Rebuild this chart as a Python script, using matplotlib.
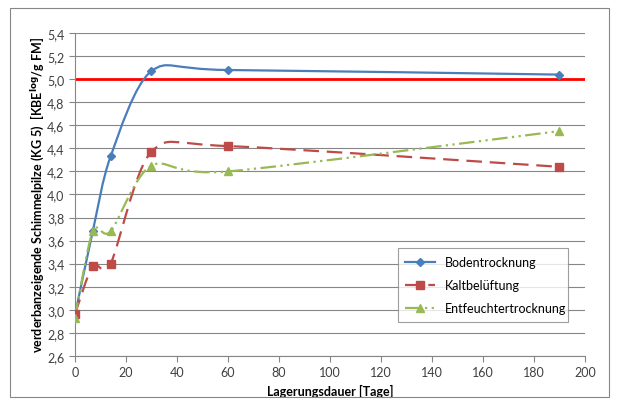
"""Schimmelpilze vs. Lagerungsdauer, recreated from an Excel chart."""

import matplotlib

matplotlib.use("Agg")
import matplotlib.pyplot as plt
from matplotlib.lines import Line2D
from matplotlib.patches import PathPatch, Rectangle
from matplotlib.path import Path

days = [0, 7, 14, 30, 60, 190]
boden = [2.95, 3.68, 4.33, 5.07, 5.08, 5.04]
kalt = [2.96, 3.38, 3.40, 4.37, 4.42, 4.24]
entfeucht = [2.93, 3.68, 3.68, 4.25, 4.20, 4.55]
threshold = 5.0

y_ticks = [2.6, 2.8, 3.0, 3.2, 3.4, 3.6, 3.8, 4.0, 4.2, 4.4, 4.6, 4.8, 5.0, 5.2, 5.4]
x_ticks = [0, 20, 40, 60, 80, 100, 120, 140, 160, 180, 200]

plt.rcParams["font.family"] = ["Lato", "DejaVu Sans"]


def smooth_path(xs, ys, k=1 / 7):
    """Excel-style smoothed line: Catmull-Rom style cubic Bezier segments."""
    pts = list(zip(xs, ys))
    n = len(pts)
    verts = [pts[0]]
    codes = [Path.MOVETO]
    for i in range(n - 1):
        p0 = pts[max(i - 1, 0)]
        p1 = pts[i]
        p2 = pts[i + 1]
        p3 = pts[min(i + 2, n - 1)]
        c1 = (p1[0] + (p2[0] - p0[0]) * k, p1[1] + (p2[1] - p0[1]) * k)
        c2 = (p2[0] - (p3[0] - p1[0]) * k, p2[1] - (p3[1] - p1[1]) * k)
        verts += [c1, c2, p2]
        codes += [Path.CURVE4] * 3
    return Path(verts, codes)


series = [
    ("Bodentrocknung", boden, "#4A7EBB", "-", "D", 4, None),
    ("Kaltbelüftung", kalt, "#BE4B48", "--", "s", 6, (7, 3.5)),
    ("Entfeuchtertrocknung", entfeucht, "#98B954", "-.", "^", 6, (7, 2, 1, 2, 1, 2)),
]

fig = plt.figure(figsize=(6.19, 4.06), dpi=100)
ax = fig.add_axes([0.121, 0.121, 0.824, 0.795])

ax.axhline(threshold, color="#FF0000", linewidth=2, zorder=2)

handles = []
for name, values, color, ls, marker, ms, dashes in series:
    patch = PathPatch(smooth_path(days, values), fill=False, edgecolor=color,
                      linewidth=1.6, linestyle=ls, zorder=3, capstyle="butt")
    if dashes is not None:
        patch.set_linestyle((0, dashes))
    ax.add_patch(patch)
    ax.plot(days, values, linestyle="none", marker=marker, markersize=ms,
            color=color, zorder=4)
    line_kw = dict(color=color, linewidth=1.6, marker=marker, markersize=ms)
    if dashes is not None:
        line_kw["dashes"] = dashes
    handles.append(Line2D([], [], label=name, **line_kw))

ax.set_xlim(0, 200)
ax.set_ylim(2.6, 5.4)
ax.set_xticks(x_ticks)
ax.set_xticklabels([str(t) for t in x_ticks])
ax.set_yticks(y_ticks)
ax.set_yticklabels([f"{t:.1f}".replace(".", ",") for t in y_ticks])
ax.tick_params(labelsize=9, colors="#404040", length=4, width=0.8, color="#868686")
ax.grid(axis="y", color="#868686", linewidth=0.8)
ax.set_axisbelow(True)
for side in ("top", "right"):
    ax.spines[side].set_visible(False)
for side in ("left", "bottom"):
    ax.spines[side].set_color("#868686")

ax.set_xlabel("Lagerungsdauer [Tage]", fontsize=9, fontweight="bold")
ax.set_ylabel(r"verderbanzeigende Schimmelpilze (KG 5)  [KBE$^{\mathbf{log}}$/g FM]",
              fontsize=9, fontweight="bold")
ax.yaxis.set_label_coords(-0.056, 0.5)

leg = ax.legend(handles=handles, loc="lower left", bbox_to_anchor=(0.633, 0.105, 0.334, 0.226),
                mode="expand", borderaxespad=0, fontsize=9, frameon=True, fancybox=False,
                edgecolor="#868686", handlelength=2.4, borderpad=0.6, labelspacing=0.9)
leg.get_frame().set_linewidth(0.8)

fig.patches.append(Rectangle((0.016, 0.02), 0.968, 0.958, transform=fig.transFigure,
                             fill=False, edgecolor="#868686", linewidth=0.8))

fig.savefig("out.png", dpi=100)
